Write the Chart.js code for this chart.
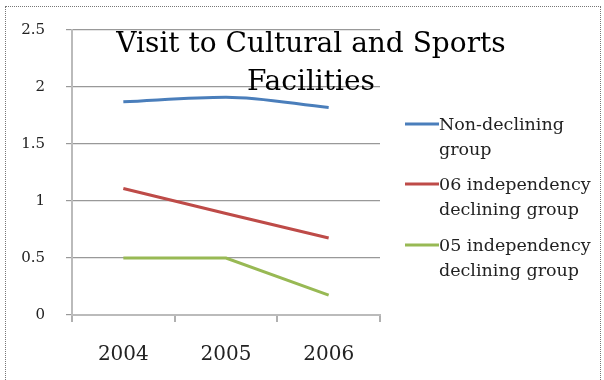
<!DOCTYPE html>
<html>
<head>
<meta charset="utf-8">
<script src="https://cdn.jsdelivr.net/npm/chart.js@4/dist/chart.umd.min.js"></script>
<style>
  html, body { margin: 0; padding: 0; background: #fff; }
  #wrap { position: relative; width: 604px; height: 380px; overflow: hidden; }
  #frame { position: absolute; left: 5px; top: 6px; width: 594px; height: 400px; border: 1px dotted #777; }
  canvas { position: absolute; left: 0; top: 0; }
</style>
</head>
<body>
<div id="wrap">
  <div id="frame"></div>
  <canvas id="chart" width="604" height="380"></canvas>
</div>
<script>
const years = ["2004", "2005", "2006"];
const nonDeclining = [1.87, 1.91, 1.82];
const declining06 = [1.11, 0.89, 0.675];
const declining05 = [0.5, 0.5, 0.175];
const seriesNames = [
  ["Non-declining", "group"],
  ["06 independency", "declining group"],
  ["05 independency", "declining group"]
];
const seriesColors = ["#4a7ebb", "#be4b48", "#98b954"];
const titleLines = ["Visit to Cultural and Sports", "Facilities"];

const serif = "'DejaVu Serif', 'Liberation Serif', serif";

// title sits over the plot, so draw it by hand; same for the 2-line legend
const overlay = {
  id: "overlay",
  afterDraw(chart) {
    const ctx = chart.ctx;
    ctx.save();
    ctx.fillStyle = "#000";
    ctx.textAlign = "center";
    ctx.textBaseline = "alphabetic";
    ctx.font = "28px " + serif;
    ctx.fillText(titleLines[0], 311, 52);
    ctx.fillText(titleLines[1], 311, 90);

    ctx.font = "17.5px " + serif;
    ctx.textAlign = "left";
    const top = [124, 184, 245];
    seriesNames.forEach((lines, i) => {
      ctx.strokeStyle = seriesColors[i];
      ctx.lineWidth = 3;
      ctx.beginPath();
      ctx.moveTo(405, top[i]);
      ctx.lineTo(439, top[i]);
      ctx.stroke();
      ctx.fillStyle = "#222";
      lines.forEach((t, j) => ctx.fillText(t, 439, top[i] + 6 + j * 25));
    });
    ctx.restore();
  }
};

new Chart(document.getElementById("chart"), {
  type: "line",
  data: {
    labels: years,
    datasets: [
      { label: seriesNames[0].join(" "), data: nonDeclining, borderColor: seriesColors[0],
        cubicInterpolationMode: "monotone" },
      { label: seriesNames[1].join(" "), data: declining06, borderColor: seriesColors[1], tension: 0 },
      { label: seriesNames[2].join(" "), data: declining05, borderColor: seriesColors[2], tension: 0 }
    ]
  },
  options: {
    responsive: false,
    animation: false,
    layout: { padding: { top: 30, right: 224, left: 0, bottom: 0 } },
    elements: {
      line: { borderWidth: 3 },
      point: { radius: 0 }
    },
    plugins: {
      legend: { display: false },
      title: { display: false },
      tooltip: { enabled: false }
    },
    scales: {
      y: {
        min: 0,
        max: 2.5,
        afterFit: (s) => { s.width = 72; },
        ticks: {
          stepSize: 0.5,
          padding: 21,
          color: "#222",
          font: { family: serif, size: 15 },
          callback: (v) => String(v)
        },
        grid: { color: "#999", lineWidth: 1.2, tickLength: 6 },
        border: { color: "#bbb", width: 2 }
      },
      x: {
        offset: true,
        afterFit: (s) => { s.height = 65; },
        ticks: {
          padding: 21,
          color: "#222",
          font: { family: serif, size: 20 }
        },
        grid: { offset: true, drawOnChartArea: false, color: "#b0b0b0", tickLength: 7, lineWidth: 2 },
        border: { color: "#bbb", width: 2 }
      }
    }
  },
  plugins: [overlay]
});
</script>
</body>
</html>
